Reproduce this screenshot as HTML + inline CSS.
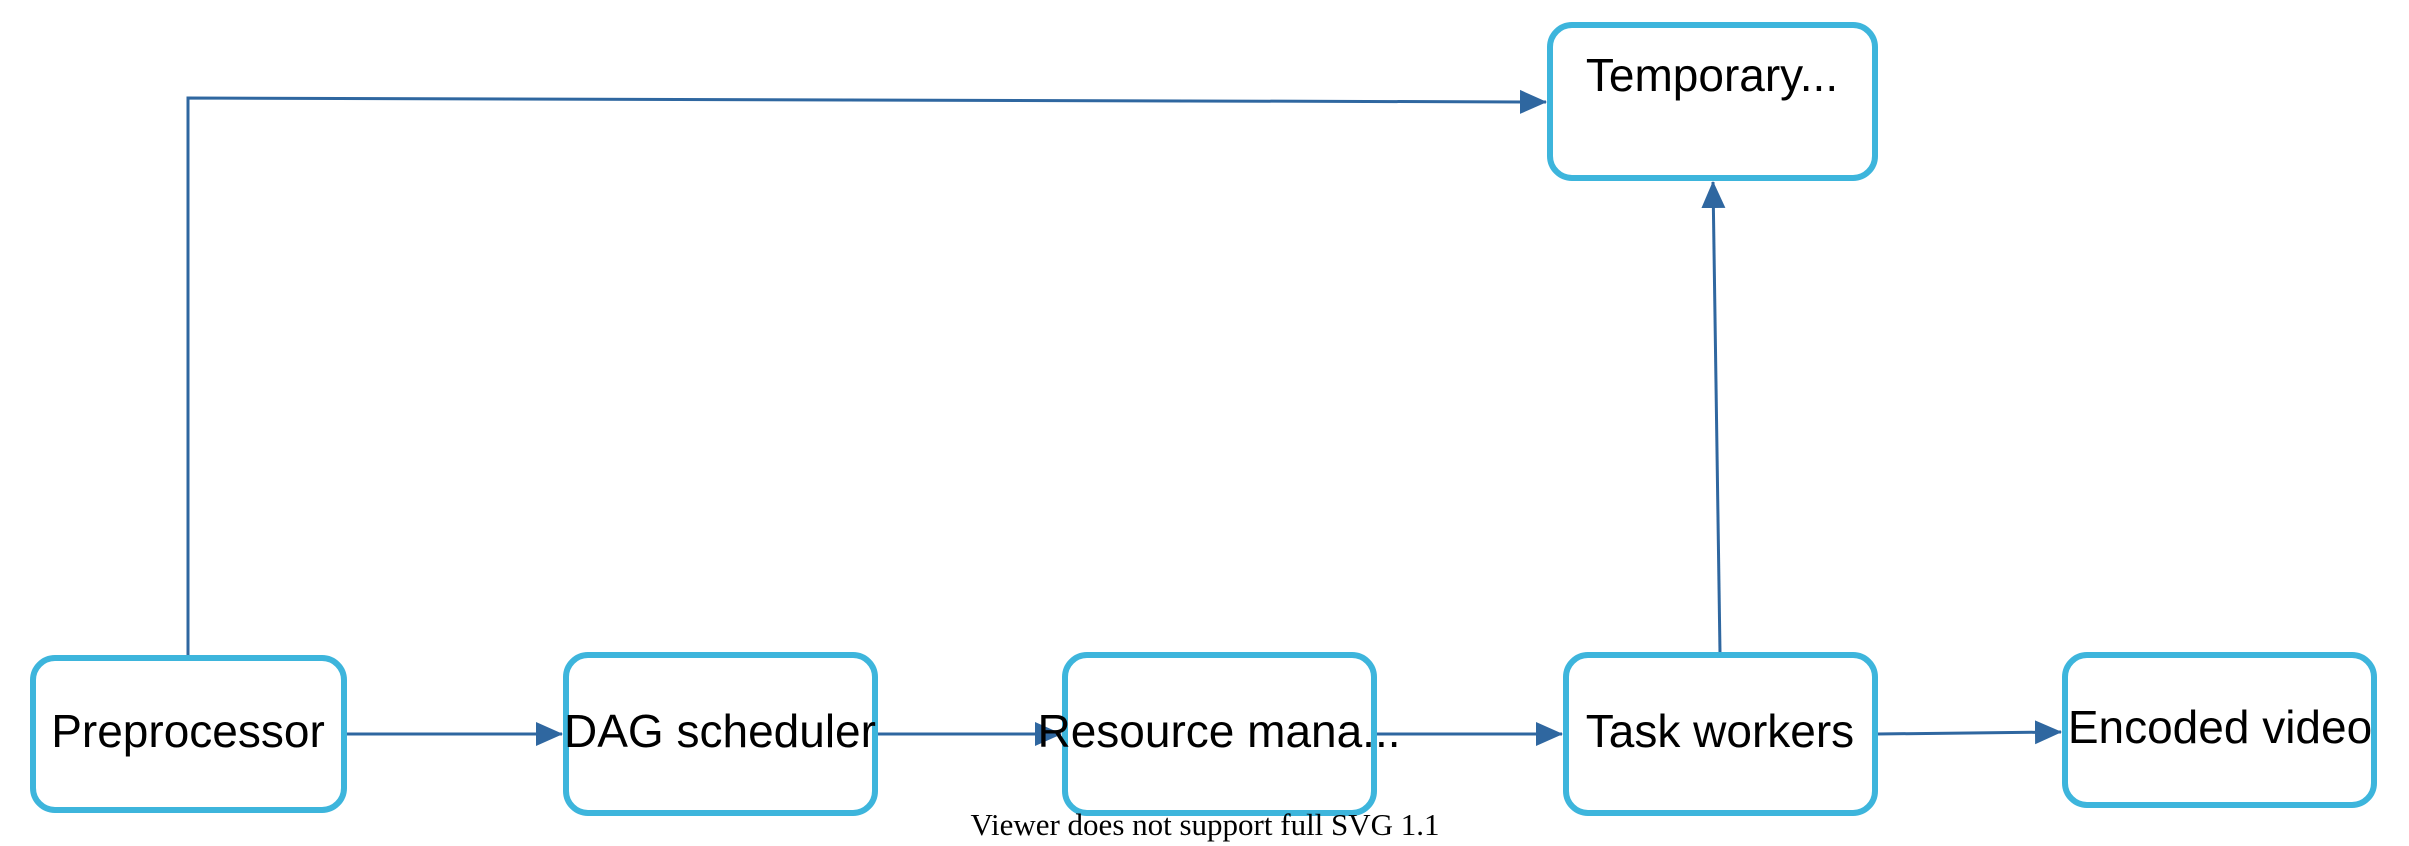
<!DOCTYPE html>
<html><head><style>body{margin:0;background:#fff}svg{display:block}</style></head><body>
<svg width="2409" height="846" viewBox="0 0 2409 846" xmlns="http://www.w3.org/2000/svg">
<defs>
<marker id="b" markerWidth="28" markerHeight="28" refX="26" refY="14" orient="auto" markerUnits="userSpaceOnUse"><path d="M0,2 L27,14 L0,26 z" fill="#2f67a0"/></marker></defs>
<g fill="none" stroke="#2f67a0" stroke-width="3">
<polyline points="188,656 188,98 1546,102" marker-end="url(#b)"/>
<line x1="346" y1="734" x2="562" y2="734" marker-end="url(#b)"/>
<line x1="877" y1="734" x2="1061" y2="734" marker-end="url(#b)"/>
<line x1="1376" y1="734" x2="1562" y2="734" marker-end="url(#b)"/>
<line x1="1877" y1="734" x2="2061" y2="732" marker-end="url(#b)"/>
<line x1="1720" y1="653" x2="1713" y2="182" marker-end="url(#b)"/>
</g>
<g fill="#fff" stroke="#3db5dc" stroke-width="6">
<rect x="33" y="658" width="311" height="152" rx="22"/>
<rect x="566" y="655" width="309" height="158" rx="22"/>
<rect x="1065" y="655" width="309" height="158" rx="22"/>
<rect x="1566" y="655" width="309" height="158" rx="22"/>
<rect x="2065" y="655" width="309" height="150" rx="22"/>
<rect x="1550" y="25" width="325" height="153" rx="22"/>
</g>
<g font-family="Liberation Sans, sans-serif" font-size="46" fill="#000" text-anchor="middle">
<text x="188" y="747">Preprocessor</text>
<text x="720" y="747">DAG scheduler</text>
<text x="1219" y="747">Resource mana...</text>
<text x="1720" y="747">Task workers</text>
<text x="2220" y="743">Encoded video</text>
<text x="1712" y="91">Temporary...</text>
</g>
<text x="1205" y="835" font-family="Liberation Serif, serif" font-size="31" text-anchor="middle">Viewer does not support full SVG 1.1</text>
</svg>
</body></html>
